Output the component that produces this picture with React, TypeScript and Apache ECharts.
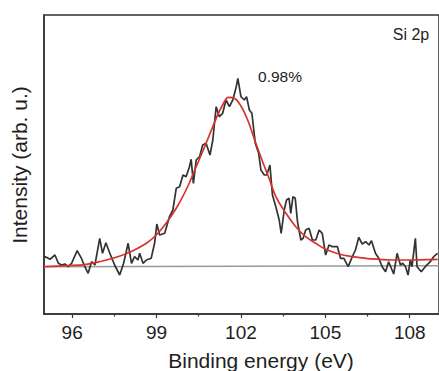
import React, { useEffect, useRef } from "react";
import * as echarts from "echarts";

// Binding energy (eV) and intensity (arb. u.) of measured spectrum
const measuredEnergy = [
  95.0, 95.09, 95.21, 95.39, 95.51, 95.63, 95.74, 95.86, 95.98, 96.18, 96.33, 96.45, 96.57, 96.69, 96.81, 96.98,
  97.08, 97.2, 97.34, 97.51, 97.69, 97.83, 97.99, 98.11, 98.22, 98.34, 98.4, 98.52, 98.64, 98.81, 98.93, 99.01,
  99.11, 99.29, 99.46, 99.58, 99.7, 99.82, 99.94, 100.05, 100.17, 100.23, 100.31, 100.41, 100.53, 100.64, 100.76,
  100.9, 101.0, 101.12, 101.23, 101.35, 101.47, 101.59, 101.71, 101.82, 101.89, 102.0, 102.12, 102.2, 102.3, 102.39,
  102.51, 102.63, 102.71, 102.83, 102.92, 103.03, 103.12, 103.24, 103.36, 103.43, 103.54, 103.62, 103.71, 103.77,
  103.85, 103.93, 104.01, 104.13, 104.21, 104.3, 104.42, 104.54, 104.66, 104.78, 104.89, 105.01, 105.13, 105.25,
  105.43, 105.54, 105.66, 105.81, 105.96, 106.07, 106.19, 106.31, 106.43, 106.55, 106.64, 106.78, 106.9, 107.02,
  107.14, 107.25, 107.43, 107.55, 107.67, 107.75, 107.85, 107.94, 108.02, 108.08, 108.2, 108.26, 108.41, 108.55,
  108.73, 108.85, 108.99,
];
const measuredIntensity = [
  57.3, 56.7, 54.7, 59.0, 50.7, 49.0, 50.0, 47.3, 50.7, 63.3, 55.7, 47.3, 40.7, 52.3, 49.0, 75.7,
  60.7, 71.3, 60.7, 49.0, 39.0, 50.7, 70.7, 50.7, 57.3, 54.0, 60.7, 50.7, 54.0, 55.7, 70.7, 90.0,
  79.0, 80.7, 97.3, 104.0, 125.7, 127.3, 139.0, 137.3, 147.3, 154.7, 130.7, 154.0, 157.3, 169.0, 170.7,
  159.0, 174.0, 207.3, 197.3, 200.7, 214.0, 207.3, 214.0, 225.7, 235.7, 217.3, 214.0, 217.3, 204.0, 200.7,
  170.7, 160.7, 144.0, 139.0, 139.0, 149.0, 119.0, 107.3, 94.0, 80.7, 104.0, 114.0, 115.7, 100.7,
  117.3, 115.7, 92.3, 74.0, 75.7, 84.0, 85.7, 74.0, 74.0, 84.0, 80.7, 59.0, 69.0, 67.3,
  67.3, 55.7, 55.7, 47.3, 57.3, 64.0, 76.7, 70.0, 72.3, 69.0, 73.3, 60.7, 55.7, 47.3,
  42.3, 52.3, 40.0, 60.7, 49.0, 50.7, 47.3, 39.0, 54.0, 47.3, 75.7, 47.3, 42.3, 47.3,
  52.3, 57.3, 60.7,
];

// Fitted peak envelope
const fitEnergy = [
  95.0, 95.8, 96.51, 96.98, 97.57, 98.16, 98.64, 98.99, 99.34, 99.7, 100.05, 100.41, 100.76, 101.12, 101.35,
  101.56, 101.77, 102.0, 102.24, 102.53, 102.77, 103.0, 103.24, 103.6, 103.95, 104.3, 104.66, 105.01, 105.48,
  105.96, 106.43, 106.9, 107.37, 107.96, 108.55, 108.99,
];
const fitIntensity = [
  47.3, 48.3, 49.7, 52.3, 56.7, 63.3, 70.7, 79.0, 90.7, 105.7, 124.0, 147.3, 170.7, 195.7, 209.0,
  216.7, 215.7, 208.0, 194.0, 170.7, 152.3, 135.7, 117.3, 100.7, 87.3, 77.3, 70.7, 64.7, 60.0,
  57.3, 55.7, 54.7, 54.0, 54.0, 54.3, 54.7,
];

// Background line
const bgEnergy = [95.0, 109.05];
const bgIntensity = [47.3, 48.3];

const majorTicks = [96, 99, 102, 105, 108];
const minorTicks = [97.5, 100.5, 103.5, 106.5];

const zip = (xs: number[], ys: number[]) => xs.map((x, i) => [x, ys[i]]);

export default function App() {
  const ref = useRef<HTMLDivElement>(null);
  useEffect(() => {
    document.body.style.margin = "0";
    if (!ref.current) return;
    const chart = echarts.init(ref.current, null, { renderer: "svg" });
    const font = "'Liberation Sans', Arial, sans-serif";
    const frame = "#333333";
    const textColor = "#1e1e1e";
    chart.setOption({
      animation: false,
      backgroundColor: "#ffffff",
      grid: {
        left: 44,
        top: 15,
        width: 397,
        height: 299,
        show: true,
        borderColor: frame,
        borderWidth: 1.5,
        backgroundColor: "transparent",
      },
      xAxis: [
        {
          type: "value",
          min: 95,
          max: 109.04,
          axisLine: { show: true, lineStyle: { color: frame, width: 1.5 } },
          axisTick: { show: true, inside: false, length: 4, customValues: majorTicks, lineStyle: { color: frame, width: 1.2 } },
          axisLabel: { show: true, customValues: majorTicks, margin: 9, fontSize: 19, color: textColor, fontFamily: font },
          splitLine: { show: false },
        },
        {
          type: "value",
          min: 95,
          max: 109.04,
          position: "bottom",
          axisLine: { show: false },
          axisTick: { show: true, inside: false, length: 2.5, customValues: minorTicks, lineStyle: { color: frame, width: 1.2 } },
          axisLabel: { show: false },
          splitLine: { show: false },
        },
      ],
      yAxis: {
        type: "value",
        min: 0,
        max: 299,
        axisLine: { show: true, lineStyle: { color: frame, width: 1.5 } },
        axisTick: { show: false },
        axisLabel: { show: false },
        splitLine: { show: false },
      },
      graphic: [
        {
          type: "text",
          x: 19,
          y: 165,
          rotation: Math.PI / 2,
          style: {
            text: "Intensity (arb. u.)",
            fontSize: 21,
            fontFamily: font,
            fill: textColor,
            align: "center",
            verticalAlign: "middle",
          },
        },
        {
          type: "text",
          x: 261,
          y: 360,
          style: {
            text: "Binding energy (eV)",
            fontSize: 21,
            fontFamily: font,
            fill: textColor,
            align: "center",
            verticalAlign: "middle",
          },
        },
        {
          type: "text",
          x: 280,
          y: 76,
          style: {
            text: "0.98%",
            fontSize: 15.5,
            fontFamily: font,
            fill: textColor,
            align: "center",
            verticalAlign: "middle",
          },
        },
        {
          type: "text",
          x: 411,
          y: 34,
          style: {
            text: "Si 2p",
            fontSize: 16,
            fontFamily: font,
            fill: textColor,
            align: "center",
            verticalAlign: "middle",
          },
        },
      ],
      series: [
        {
          type: "line",
          data: zip(bgEnergy, bgIntensity),
          showSymbol: false,
          lineStyle: { color: "#9a9a9a", width: 1.5 },
          z: 1,
        },
        {
          type: "line",
          data: zip(measuredEnergy, measuredIntensity),
          showSymbol: false,
          lineStyle: { color: "#333333", width: 1.7 },
          z: 2,
        },
        {
          type: "line",
          data: zip(fitEnergy, fitIntensity),
          showSymbol: false,
          smooth: 0.4,
          lineStyle: { color: "#d8322c", width: 1.7 },
          z: 3,
        },
      ],
    });
    return () => chart.dispose();
  }, []);
  return <div ref={ref} style={{ width: 439, height: 371 }} />;
}
